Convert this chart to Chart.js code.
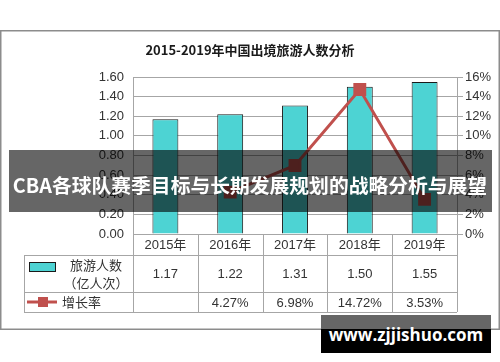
<!DOCTYPE html>
<html>
<head>
<meta charset="utf-8">
<script src="https://cdn.jsdelivr.net/npm/chart.js@4"></script>
<style>
  body { margin: 0; background: #fff; }
  #wrap { position: relative; width: 500px; height: 362px; overflow: hidden; }
  #banner { position: absolute; left: 9px; top: 150px; width: 483px; height: 62px; background: rgba(0,0,0,0.6); }
  #bannerText { position: absolute; left: 0; top: 172px; width: 500px; text-align: center; white-space: nowrap;
    color: #fff; font: bold 19.8px "Noto Sans CJK SC", sans-serif; line-height: 26px; }
  #mark1 { position: absolute; left: 321px; top: 315px; width: 170px; height: 14px; background: #666; }
  #mark2 { position: absolute; left: 321px; top: 329px; width: 170px; height: 24px; background: #000; }
  #markText { position: absolute; left: 321px; top: 323px; width: 170px; text-align: center; color: #fff;
    font: bold 17px "Open Sans", sans-serif; line-height: 24px; }
</style>
</head>
<body>
<div id="wrap">
  <canvas id="tourChart" width="500" height="362"></canvas>
  <div id="banner"></div>
  <div id="bannerText">CBA各球队赛季目标与长期发展规划的战略分析与展望</div>
  <div id="mark1"></div>
  <div id="mark2"></div>
  <div id="markText">www.zjjishuo.com</div>
</div>
<script>
// data
const years = ['2015年', '2016年', '2017年', '2018年', '2019年'];
const tourists = [1.17, 1.22, 1.31, 1.50, 1.55];          // 亿人次
const growth = [null, 4.27, 6.98, 14.72, 3.53];           // %
const chartTitle = '2015-2019年中国出境旅游人数分析';
const barLabel = ['旅游人数', '（亿人次）'];
const lineLabel = '增长率';

const barColor = '#4dd3d3';
const lineColor = '#c0504d';
const gridColor = '#a6a6a6';
const textColor = '#333';

// title, frame and the data table under the axis
const tablePlugin = {
  id: 'dataTable',
  afterDraw(chart) {
    const ctx = chart.ctx;
    const a = chart.chartArea;
    const n = years.length;
    const colW = (a.right - a.left) / n;
    const tLeft = 24;
    const r0 = Math.round(a.bottom), r1 = r0 + 21, r2 = r1 + 37, r3 = r2 + 20;

    ctx.save();
    // outer frame
    ctx.strokeStyle = '#8c8c8c';
    ctx.lineWidth = 1.5;
    ctx.strokeRect(0.75, 30.75, 498.5, 298.5);

    // title
    ctx.fillStyle = '#1a1a1a';
    ctx.font = 'bold 13px "Noto Sans CJK SC", sans-serif';
    ctx.textAlign = 'center';
    ctx.textBaseline = 'middle';
    ctx.fillText(chartTitle, 250, 50);

    // table lines
    ctx.strokeStyle = gridColor;
    ctx.lineWidth = 1;
    ctx.beginPath();
    for (let i = 0; i <= n; i++) {
      const x = Math.round(a.left + i * colW) + 0.5;
      ctx.moveTo(x, r0); ctx.lineTo(x, r3);
    }
    [r1, r2, r3].forEach(y => { ctx.moveTo(tLeft, y + 0.5); ctx.lineTo(a.right, y + 0.5); });
    ctx.moveTo(tLeft + 0.5, r1); ctx.lineTo(tLeft + 0.5, r3);
    ctx.stroke();

    // cells
    ctx.fillStyle = textColor;
    ctx.font = '13px "Liberation Sans", "Noto Sans CJK SC", sans-serif';
    for (let i = 0; i < n; i++) {
      const cx = a.left + (i + 0.5) * colW;
      ctx.fillText(years[i], cx, (r0 + r1) / 2 + 1);
      ctx.fillText(tourists[i].toFixed(2), cx, (r1 + r2) / 2 + 1);
      if (growth[i] != null) ctx.fillText(growth[i].toFixed(2) + '%', cx, (r2 + r3) / 2 + 1);
    }

    // legend keys in the first column
    ctx.fillStyle = barColor;
    ctx.fillRect(29, 262, 26, 9);
    ctx.strokeStyle = '#1a1a1a';
    ctx.strokeRect(29.5, 262.5, 26, 9);
    ctx.strokeStyle = lineColor;
    ctx.lineWidth = 3;
    ctx.beginPath(); ctx.moveTo(27, 302); ctx.lineTo(57, 302); ctx.stroke();
    ctx.fillStyle = lineColor;
    ctx.fillRect(38, 297, 10, 10);

    ctx.fillStyle = textColor;
    ctx.font = '13px "Noto Sans CJK SC", sans-serif';
    ctx.fillText(barLabel[0], 96, 265);
    ctx.fillText(barLabel[1], 96, 283);
    ctx.textAlign = 'left';
    ctx.fillText(lineLabel, 62, 302);
    ctx.restore();
  }
};

const ctx = document.getElementById('tourChart').getContext('2d');
new Chart(ctx, {
  type: 'bar',
  data: {
    labels: years,
    datasets: [{
      type: 'line',
      label: lineLabel,
      data: growth,
      yAxisID: 'y1',
      borderColor: lineColor,
      backgroundColor: lineColor,
      borderWidth: 3,
      pointStyle: 'rect',
      pointRadius: 7,
      pointBackgroundColor: lineColor,
      pointBorderColor: lineColor,
      order: 0
    }, {
      label: barLabel.join(''),
      data: tourists,
      yAxisID: 'y',
      backgroundColor: barColor,
      borderColor: '#1a1a1a',
      borderWidth: 1,
      barPercentage: 0.4,
      categoryPercentage: 1,
      order: 1
    }]
  },
  options: {
    responsive: false,
    animation: false,
    layout: { padding: { top: 77, bottom: 128, left: 0, right: 0 } },
    plugins: { legend: { display: false }, title: { display: false }, tooltip: { enabled: false } },
    scales: {
      x: { display: false },
      y: {
        position: 'left',
        min: 0, max: 1.6,
        ticks: { stepSize: 0.2, padding: 9, color: textColor, font: { family: 'Liberation Sans', size: 13 },
          callback: v => v.toFixed(2) },
        grid: { color: gridColor, drawTicks: false },
        border: { color: gridColor },
        afterFit: s => { s.width = 133; }
      },
      y1: {
        position: 'right',
        min: 0, max: 16,
        ticks: { stepSize: 2, padding: 2, color: textColor, font: { family: 'Liberation Sans', size: 13 },
          callback: v => v + '%' },
        grid: { drawOnChartArea: false, color: gridColor, tickLength: 6 },
        border: { color: gridColor },
        afterFit: s => { s.width = 43; }
      }
    }
  },
  plugins: [tablePlugin]
});
</script>
</body>
</html>
